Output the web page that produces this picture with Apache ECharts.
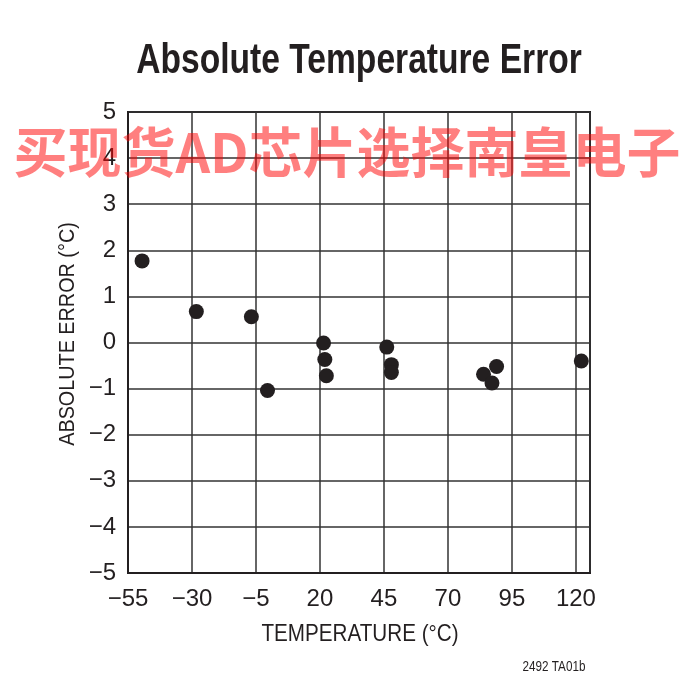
<!DOCTYPE html>
<html>
<head>
<meta charset="utf-8">
<script src="https://cdn.jsdelivr.net/npm/echarts@6/dist/echarts.min.js"></script>
<style>
html,body{margin:0;padding:0;background:#fff;}
#chart{width:692px;height:695px;}
</style>
</head>
<body>
<div id="chart"></div>
<script>
// Data
const temperatures = [-49.5, -28.3, -6.8, -0.5, 21.4, 21.9, 22.5, 46.1, 47.9, 47.9, 83.9, 87.2, 89.0, 122.1];
const absErrors    = [1.77, 0.67, 0.56, -1.04, -0.01, -0.37, -0.72, -0.10, -0.48, -0.65, -0.69, -0.88, -0.52, -0.40];
const xTicks = [-55, -30, -5, 20, 45, 70, 95, 120];
const yTicks = [-5, -4, -3, -2, -1, 0, 1, 2, 3, 4, 5];
const titleText = 'Absolute Temperature Error';
const xName = 'TEMPERATURE (°C)';
const yName = 'ABSOLUTE ERROR (°C)';
const watermark = '买现货AD芯片选择南皇电子';
const footnote = '2492 TA01b';

const points = temperatures.map((t, i) => [t, absErrors[i]]);
const FONT = "'Liberation Sans', Arial, sans-serif";
const INK = '#231f20';
const fmt = v => String(v).replace('-', '\u2212');

const chart = echarts.init(document.getElementById('chart'));
chart.setOption({
  backgroundColor: '#ffffff',
  animation: false,
  grid: {
    left: 128, right: 102, top: 112, bottom: 122,
    show: true, borderColor: INK, borderWidth: 2, backgroundColor: 'transparent'
  },
  xAxis: {
    type: 'value',
    min: xTicks[0], max: 125.5, interval: 25,
    axisLine: { show: true, onZero: false, lineStyle: { color: INK, width: 2 } },
    axisTick: { show: false },
    axisLabel: { fontFamily: FONT, fontSize: 24, color: INK, margin: 14, formatter: fmt, showMaxLabel: false },
    splitLine: { show: true, lineStyle: { color: '#333', width: 1.5 } }
  },
  yAxis: {
    type: 'value',
    min: yTicks[0], max: yTicks[yTicks.length - 1], interval: 1,
    axisLine: { show: true, onZero: false, lineStyle: { color: INK, width: 2 } },
    axisTick: { show: false },
    axisLabel: { fontFamily: FONT, fontSize: 24, color: INK, margin: 12, formatter: fmt },
    splitLine: { show: true, lineStyle: { color: '#333', width: 1.5 } }
  },
  series: [{
    type: 'scatter',
    data: points,
    symbol: 'circle',
    symbolSize: 15,
    itemStyle: { color: INK, opacity: 1 },
    z: 5
  }],
  graphic: [
    {
      type: 'text', x: 359, y: 61, scaleX: 0.8, z: 100,
      style: { text: titleText, x: 0, y: 0, align: 'center', verticalAlign: 'middle',
               fontFamily: FONT, fontWeight: 'bold', fontSize: 42, fill: INK }
    },
    {
      type: 'text', x: 360, y: 634, scaleX: 0.86, z: 100,
      style: { text: xName, x: 0, y: 0, align: 'center', verticalAlign: 'middle',
               fontFamily: FONT, fontSize: 24, fill: INK }
    },
    {
      type: 'text', x: 68, y: 334, rotation: Math.PI / 2, scaleX: 0.9, z: 100,
      style: { text: yName, x: 0, y: 0, align: 'center', verticalAlign: 'middle',
               fontFamily: FONT, fontSize: 22, fill: INK }
    },
    {
      type: 'text', x: 554, y: 667, scaleX: 0.78, z: 100,
      style: { text: footnote, x: 0, y: 0, align: 'center', verticalAlign: 'middle',
               fontFamily: FONT, fontSize: 15, fill: INK }
    },
    {
      type: 'text', x: 347, y: 152, z: 100,
      style: { text: watermark, x: 0, y: 0, align: 'center', verticalAlign: 'middle',
               fontFamily: "'Noto Sans CJK SC', sans-serif", fontWeight: 'bold', fontSize: 54, fill: 'rgba(255,0,0,0.5)' }
    }
  ]
});
</script>
</body>
</html>
